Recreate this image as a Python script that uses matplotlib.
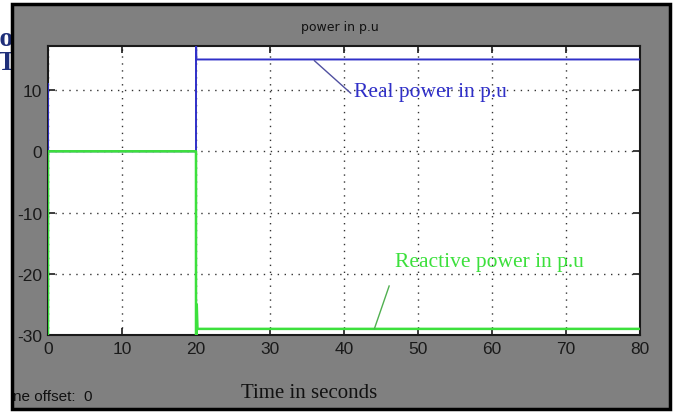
import matplotlib
matplotlib.use("Agg")
import matplotlib.pyplot as plt
from matplotlib.patches import Rectangle

plt.rcParams['axes.unicode_minus'] = False

# données
real_t = [0, 0, 20, 20, 20.05, 80]
real_p = [11, 0, 0, 20, 15, 15]

react_t = [0, 0, 20, 20, 20.1, 20.1, 20.2, 80]
react_q = [-30, 0, 0, -30, -30, -25, -29, -29]

x_ticks = [0, 10, 20, 30, 40, 50, 60, 70, 80]
y_ticks = [-30, -20, -10, 0, 10]

W, H = 678, 414
fig = plt.figure(figsize=(W / 100, H / 100), dpi=100)
fig.patch.set_facecolor('white')

# fond gris façon scope Simulink
bg = Rectangle((12 / W, 1 - 410 / H), (670 - 12) / W, (410 - 5) / H,
               transform=fig.transFigure, facecolor='#808080',
               edgecolor='black', linewidth=2.5, zorder=-5)
fig.patches.append(bg)

ax = fig.add_axes([48 / W, 1 - 336 / H, (640 - 48) / W, (336 - 47) / H])
ax.set_zorder(2)
ax.set_facecolor('white')

blue = '#3030c8'
green = '#3ce03c'
ax.plot(real_t, real_p, color=blue, lw=1.4, zorder=3)
ax.plot(react_t, react_q, color=green, lw=1.8, zorder=4)

ax.set_xlim(0, 80)
ax.set_ylim(-30, 17.2)
ax.set_xticks(x_ticks)
ax.set_yticks(y_ticks)
ax.grid(True, linestyle=(0, (1, 4)), color='#333333', linewidth=1.0)
ax.tick_params(direction='in', length=5, width=1.2, top=True, right=True,
               labelsize=12.5, colors='#1a1a1a', pad=4)
for lab in ax.get_xticklabels() + ax.get_yticklabels():
    lab.set_family(['Liberation Sans Narrow', 'Liberation Sans', 'DejaVu Sans'])
for s in ax.spines.values():
    s.set_linewidth(1.5)
    s.set_color('#1a1a1a')

# annotations
ax.text(41.4, 9.8, 'Real power in p.u', color=blue, fontsize=15.5,
        family='Liberation Serif', va='center', ha='left', zorder=5)
ax.plot([36.0, 40.9], [14.8, 9.5], color='#5050a0', lw=1.0, zorder=5)

ax.text(46.9, -18.0, 'Reactive power in p.u', color=green, fontsize=15.5,
        family='Liberation Serif', va='center', ha='left', zorder=5)
ax.plot([44.1, 46.1], [-29.0, -22.0], color='#50b050', lw=1.0, zorder=5)

# titre et textes du cadre
fig.text(340 / W, 1 - 28 / H, 'power in p.u', ha='center', va='center',
         fontsize=9, color='#111111', family='DejaVu Sans')
fig.text(309 / W, 1 - 394 / H, 'Time in seconds', ha='center', va='center',
         fontsize=15, color='#111111', family='Liberation Serif')
fig.text(13 / W, 1 - 397 / H, 'ne offset:  0', ha='left', va='center',
         fontsize=11, color='#111111', family='Liberation Sans')

# texte de la diapositive, caché en partie par le cadre gris
fig.text(-15 / W, 1 - 39 / H, 'po', ha='left', va='center', fontsize=20,
         fontweight='bold', color='#1f2f7a', family='Liberation Serif',
         zorder=-10)
fig.text(-2 / W, 1 - 63 / H, 'TC', ha='left', va='center', fontsize=20,
         fontweight='bold', color='#1f2f7a', family='Liberation Serif',
         zorder=-10)

fig.savefig('out.png', dpi=100)
